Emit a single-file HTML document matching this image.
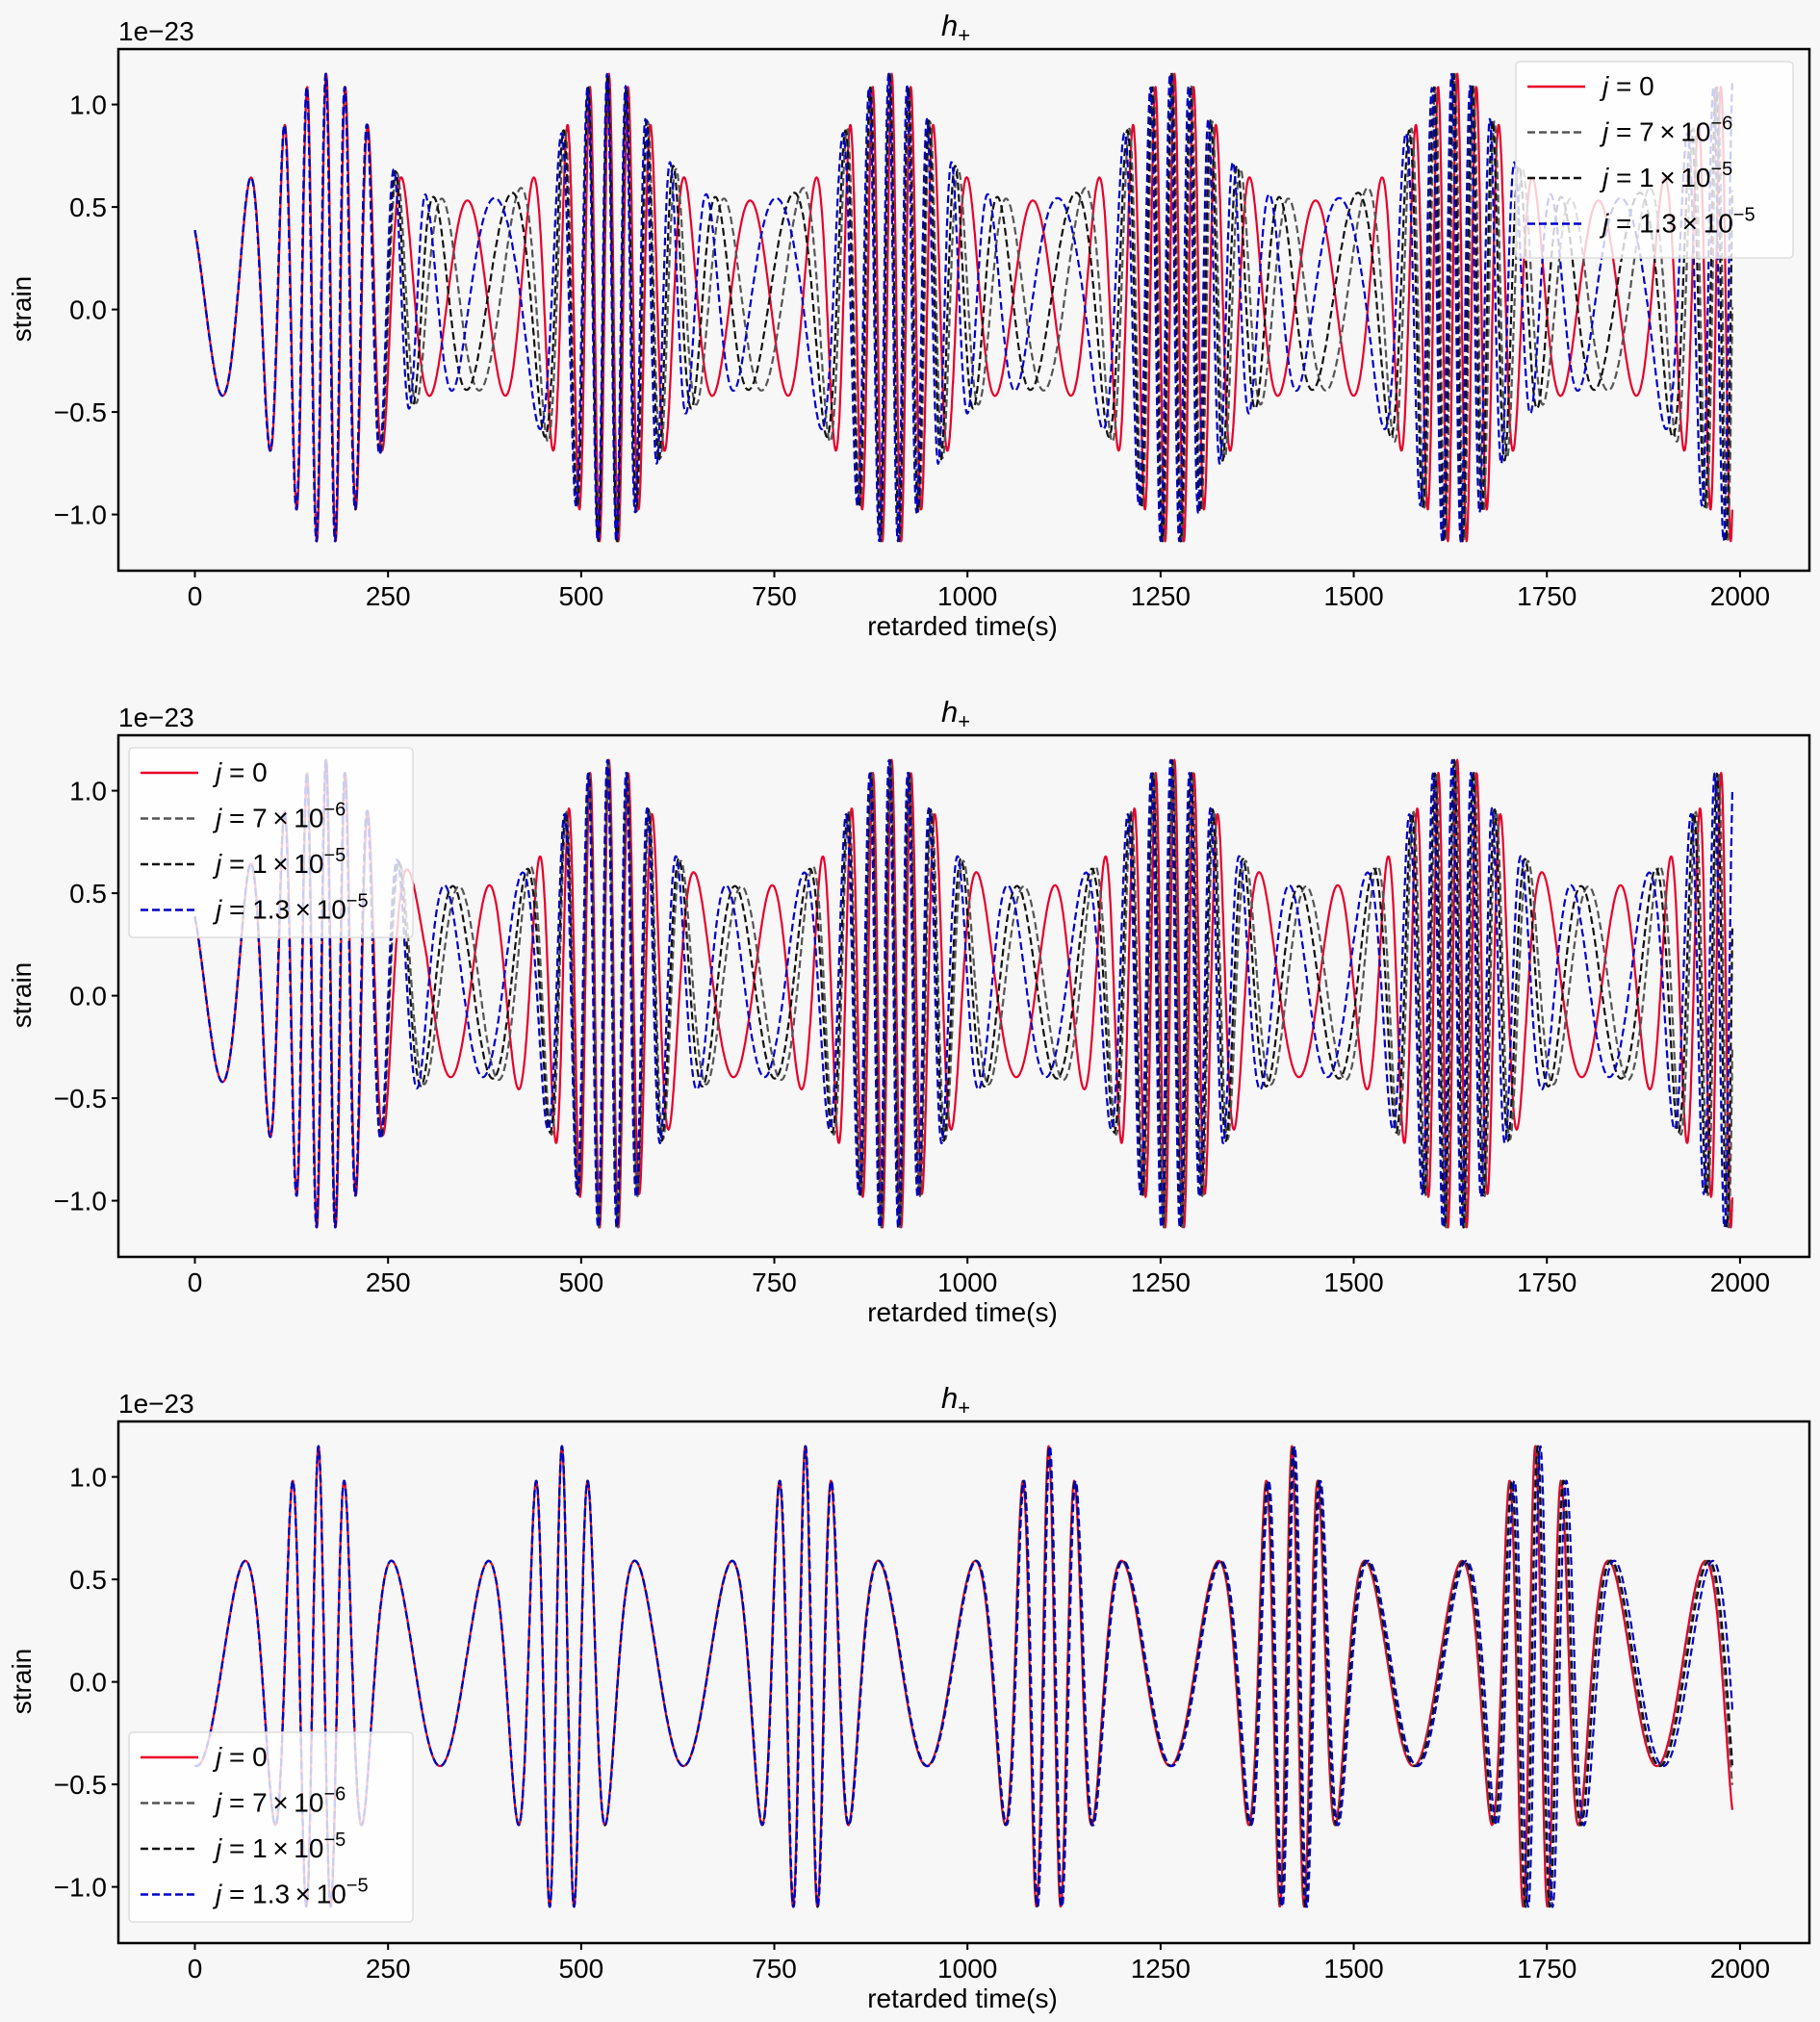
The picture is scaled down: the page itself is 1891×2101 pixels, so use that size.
<!DOCTYPE html>
<html><head><meta charset="utf-8">
<style>
html,body{margin:0;padding:0;background:#f7f7f7;}
svg{display:block;font-family:"Liberation Sans","DejaVu Sans",sans-serif;}
</style></head>
<body>
<svg id="s" width="1891" height="2101" viewBox="0 0 1891 2101" xmlns="http://www.w3.org/2000/svg">
<rect width="1891" height="2101" fill="#f7f7f7"/>
<g id="root"></g>
</svg>
<script>
(function(){
var NS="http://www.w3.org/2000/svg";
var root=document.getElementById("root");
function el(tag,attrs,parent,text){var e=document.createElementNS(NS,tag);for(var k in attrs)e.setAttribute(k,attrs[k]);if(text!==undefined)e.textContent=text;(parent||root).appendChild(e);return e;}
var L=123,R=1880,H=542;
function xp(t){return 202.5+0.8027*t;}
function makeGen(P,tp,cyc,sig,a,sigA,A0,A1){
  var N=2000,tab=[],dt=P/N,sum=0;
  for(var i=0;i<=N;i++){var tau=-P/2+i*dt;tab.push(sum);sum+=(a+Math.exp(-(tau/sig)*(tau/sig)))*dt;}
  var total=tab[N],zero=tab[N/2];
  return function(t,s){
    var u=t-tp+P/2;var k=Math.floor(u/P);var tau=u-k*P-P/2;
    var idx=Math.min(N,Math.max(0,Math.round((tau+P/2)/dt)));
    var C=(tab[idx]-zero)/total;
    var sn=Math.sin(Math.PI*tau/P);
    var ph=2*Math.PI*(cyc*(k+C)+s*sn*sn);
    var bw=Math.exp(-(tau/sigA)*(tau/sigA));
    var A=A0+A1*bw;
    return 0.07*(1-bw)+A*Math.cos(ph);
  };
}
var g3=makeGen(315,160,5,60,0.31,58,0.48,0.67);
var g1=makeGen(366,170,8,80,0.3,75,0.46,0.69);
var g2=makeGen(366,170,8,80,0.3,75,0.46,0.69);
var cols=["#e8002a","#555555","#111111","#0000cc"];
function series(T,fn){
  var out=[];
  for(var j=0;j<4;j++){
    var d="";
    for(var t=0;t<=1990;t+=0.5){
      var v=fn(t,j);
      var y=T+270.6-v*213;
      d+=(t===0?"M":"L")+xp(t).toFixed(1)+","+y.toFixed(1);
    }
    out.push(d);
  }
  return out;
}
function ramp(t){if(t<220)return 0;if(t>300)return 1;return (t-220)/80;}
var panels=[
 {T:51,fn:function(t,j){var s=[0,0.35,0.5,0.7][j];var dd=[0,-4,-6,-9][j];return g1(t-dd*t/2000,s*ramp(t));},leg:{x:1575,y:64,w:288,h:204}},
 {T:764,fn:function(t,j){var s=[-0.3,0.1,0.18,0.3][j];var dd=[0,-3,-5,-8][j];return g2(t-dd*t/2000,s*ramp(t));},leg:{x:134,y:777,w:295,h:197}},
 {T:1477,fn:function(t,j){var dd=[0,3,5,10][j];var tt=t/2000;return g3(t-dd*tt*tt*tt,0);},leg:{x:134,y:1800,w:295,h:197}}
];
panels.forEach(function(p){
  var T=p.T,B=T+H;
  var cid="c"+T;
  var cp=el("clipPath",{id:cid});el("rect",{x:L,y:T,width:R-L,height:H},cp);
  var g=el("g",{"clip-path":"url(#"+cid+")"});
  var ds=series(T,p.fn);
  for(var j=0;j<4;j++){
    var at={d:ds[j],fill:"none",stroke:cols[j],"stroke-width":2.2,"stroke-linejoin":"round"};
    if(j>0)at["stroke-dasharray"]="8,4";
    el("path",at,g);
  }
  el("rect",{x:L,y:T,width:R-L,height:H,fill:"none",stroke:"#000","stroke-width":2.5});
  [1,0.5,0,-0.5,-1].forEach(function(v){
    var y=T+270.6-v*213;
    el("line",{x1:L-7,y1:y,x2:L,y2:y,stroke:"#000","stroke-width":2});
    var lab=(v<0?"\u2212":"")+Math.abs(v).toFixed(1);
    el("text",{x:L-12,y:y+10,"font-size":28,"text-anchor":"end",fill:"#000"},null,lab);
  });
  [0,250,500,750,1000,1250,1500,1750,2000].forEach(function(v){
    var x=xp(v);
    el("line",{x1:x,y1:B,x2:x,y2:B+7,stroke:"#000","stroke-width":2});
    el("text",{x:x,y:B+36,"font-size":28,"text-anchor":"middle",fill:"#000"},null,String(v));
  });
  el("text",{x:1000,y:B+67,"font-size":28,"text-anchor":"middle",fill:"#000"},null,"retarded time(s)");
  el("text",{x:0,y:0,"font-size":28,"text-anchor":"middle",fill:"#000",transform:"translate(32,"+(T+270)+") rotate(-90)"},null,"strain");
  el("text",{x:123,y:T-9,"font-size":28,fill:"#000"},null,"1e\u221223");
  var tt=el("text",{x:978,y:T-14,"font-size":31,fill:"#000"});
  el("tspan",{"font-style":"italic"},tt,"h");
  el("tspan",{dy:7,"font-size":22},tt,"+");
  var lg=p.leg;
  el("rect",{x:lg.x,y:lg.y,width:lg.w,height:lg.h,rx:4,fill:"#ffffff","fill-opacity":0.8,stroke:"#dddddd","stroke-width":1.5});
  var labels=[["0",null],["7\u2009\u00d7\u200910","\u22126"],["1\u2009\u00d7\u200910","\u22125"],["1.3\u2009\u00d7\u200910","\u22125"]];
  for(var j=0;j<4;j++){
    var y=lg.y+26+j*47.5;
    var la={x1:lg.x+12,y1:y,x2:lg.x+72,y2:y,stroke:cols[j],"stroke-width":2.5};
    if(j>0)la["stroke-dasharray"]="8,4";
    el("line",la);
    var tx=el("text",{x:lg.x+90,y:y+9,"font-size":28,fill:"#000"});
    el("tspan",{"font-style":"italic"},tx,"j");
    el("tspan",{},tx," = "+labels[j][0]);
    if(labels[j][1]){el("tspan",{dy:-12,"font-size":20},tx,labels[j][1]);}
  }
});
})();
</script>
</body></html>
